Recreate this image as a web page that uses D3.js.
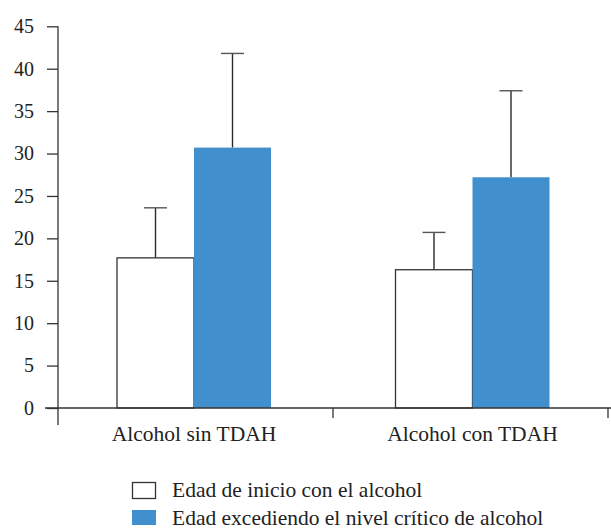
<!DOCTYPE html>
<html>
<head>
<meta charset="utf-8">
<script src="https://cdn.jsdelivr.net/npm/d3@7"></script>
<style>
  html, body { margin: 0; padding: 0; background: #fff; }
  svg { display: block; }
  svg text { font-family: 'Liberation Serif', serif; }
</style>
</head>
<body>
<svg id="chart" width="611" height="529"></svg>
<script>
// Groups and series (age, years)
const categories = ["Alcohol sin TDAH", "Alcohol con TDAH"];
const seriesNames = ["Edad de inicio con el alcohol", "Edad excediendo el nivel crítico de alcohol"];
const inicioMean = [17.7, 16.3];
const inicioSD = [5.9, 4.4];
const excesoMean = [30.7, 27.2];
const excesoSD = [11.1, 10.2];
const yTicks = [0, 5, 10, 15, 20, 25, 30, 35, 40, 45];

const FONT = "'Liberation Serif', serif";
const svg = d3.select("#chart");
const ink = "#333";
const blue = "#418fcc";

// band scale for the group dividers, point scale for group centres
const xBand = d3.scaleBand().domain(categories).range([58, 608]);
const xCenter = d3.scalePoint().domain(categories).range([194, 472.5]);
const y = d3.scaleLinear().domain([0, 45]).range([408, 26.3]);
const barW = 77;

const rows = [];
categories.forEach((c, i) => {
  rows.push({ cat: c, s: 0, mean: inicioMean[i], sd: inicioSD[i] });
  rows.push({ cat: c, s: 1, mean: excesoMean[i], sd: excesoSD[i] });
});
const xPos = d => xCenter(d.cat) - barW + d.s * barW;

// Error bars (upper only)
const eb = svg.append("g").attr("stroke", "#2a2a2a").attr("stroke-width", 1.4);
eb.selectAll("line.stem").data(rows).join("line")
  .attr("x1", d => xPos(d) + barW / 2).attr("x2", d => xPos(d) + barW / 2)
  .attr("y1", d => y(d.mean)).attr("y2", d => y(d.mean + d.sd));
eb.selectAll("line.cap").data(rows).join("line")
  .attr("stroke", "#555")
  .attr("x1", d => xPos(d) + barW / 2 - 11.5).attr("x2", d => xPos(d) + barW / 2 + 11.5)
  .attr("y1", d => y(d.mean + d.sd)).attr("y2", d => y(d.mean + d.sd));

// Bars
svg.append("g").selectAll("rect").data(rows).join("rect")
  .attr("x", d => xPos(d))
  .attr("y", d => y(d.mean))
  .attr("width", barW)
  .attr("height", d => y(0) - y(d.mean))
  .attr("fill", d => d.s === 0 ? "#fff" : blue)
  .attr("stroke", d => d.s === 0 ? ink : "none")
  .attr("stroke-width", 1.3);

// Y axis
const yAxis = svg.append("g").attr("transform", "translate(58,0)")
  .call(d3.axisLeft(y).tickValues(yTicks).tickSize(11).tickSizeOuter(0).tickPadding(13));
yAxis.attr("font-family", null).attr("font-size", null);
yAxis.select(".domain").remove();
yAxis.selectAll(".tick line").attr("stroke", ink).attr("stroke-width", 1.3);
yAxis.selectAll(".tick text").attr("fill", "#222")
  .style("font-size", "20px").style("font-family", FONT);
svg.append("line").attr("x1", 58).attr("x2", 58)
  .attr("y1", y(45)).attr("y2", 425).attr("stroke", ink).attr("stroke-width", 1.3);

// X axis baseline and group dividers
svg.append("line").attr("x1", 45).attr("x2", 611)
  .attr("y1", y(0)).attr("y2", y(0)).attr("stroke", ink).attr("stroke-width", 1.3);
svg.append("g").selectAll("line").data(categories).join("line")
  .attr("x1", d => xBand(d) + xBand.bandwidth()).attr("x2", d => xBand(d) + xBand.bandwidth())
  .attr("y1", y(0)).attr("y2", 418).attr("stroke", ink).attr("stroke-width", 1.3);
svg.append("g").selectAll("text").data(categories).join("text")
  .attr("x", d => xCenter(d))
  .attr("y", 441)
  .attr("text-anchor", "middle")
  .attr("fill", "#222")
  .style("font-size", "21.5px").style("font-family", FONT)
  .text(d => d);

// Legend
const leg = svg.append("g").selectAll("g").data(seriesNames).join("g")
  .attr("transform", (d, i) => `translate(132,${482 + i * 28})`);
leg.append("rect")
  .attr("x", (d, i) => i === 0 ? 0.5 : 0).attr("y", (d, i) => i === 0 ? 0.5 : 0)
  .attr("width", (d, i) => i === 0 ? 23 : 24)
  .attr("height", (d, i) => i === 0 ? 16 : 15)
  .attr("fill", (d, i) => i === 0 ? "#fff" : blue)
  .attr("stroke", (d, i) => i === 0 ? ink : "none")
  .attr("stroke-width", 1.3);
leg.append("text")
  .attr("x", 40).attr("y", 15)
  .attr("fill", "#222")
  .style("font-size", "21.5px").style("font-family", FONT)
  .text(d => d);
</script>
</body>
</html>
